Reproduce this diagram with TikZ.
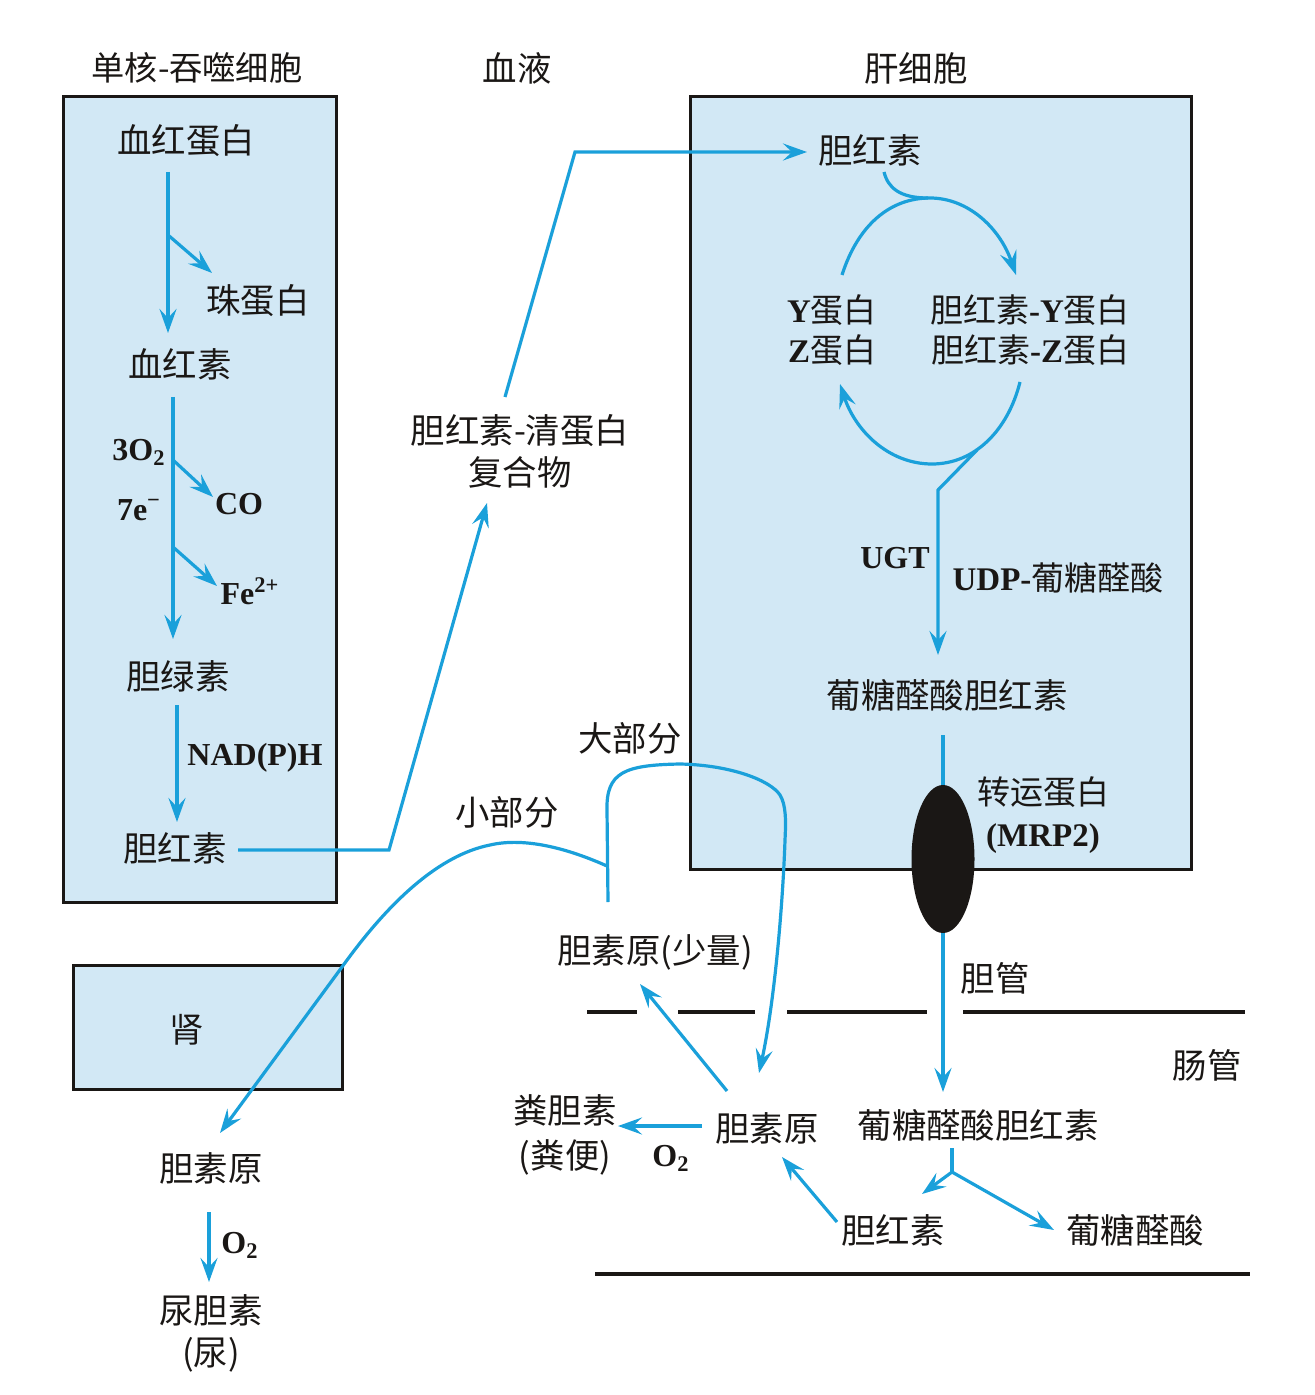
\documentclass[tikz,border=0pt]{standalone}
\usepackage{fontspec}
\setmainfont{Liberation Serif}
\newfontfamily\cjk{Noto Sans CJK SC}
\newcommand\zh[1]{{\cjk\mdseries #1}}
\usetikzlibrary{arrows.meta,shapes.geometric,calc}
\definecolor{flow}{HTML}{1AA0DA}
\definecolor{cellfill}{HTML}{D2E8F5}
\definecolor{ink}{HTML}{1A1715}
\begin{document}
\begin{tikzpicture}[x=0.5pt,y=-0.5pt,
  zhtxt/.style={font=\fontsize{17.2}{21}\selectfont\cjk, text=ink, align=center, inner sep=0pt},
  latn/.style={font=\fontsize{16}{20}\selectfont\bfseries, text=ink, align=center, inner sep=0pt},
  cellbox/.style={draw=ink, line width=1.5pt, fill=cellfill},
  flowline/.style={draw=flow, line width=1.6pt},
  arr/.style={flowline, -{Stealth[length=12pt,width=8.5pt,inset=4.5pt]}},
  gutline/.style={draw=ink, line width=2pt}]
\useasboundingbox (0,0) rectangle (1314,1395);

% compartments
\draw[cellbox] (63,97) rectangle (336,902);
\draw[cellbox] (690,97) rectangle (1191,869);
\draw[cellbox] (73,965) rectangle (342,1089);

% titles
\node[zhtxt, font=\fontsize{16.6}{21}\selectfont\cjk] (tmono) at (197,68) {单核-吞噬细胞};
\node[zhtxt] (tblood) at (517,68) {血液};
\node[zhtxt] (tliver) at (916,68) {肝细胞};

% macrophage
\node[zhtxt] (hb) at (186,141) {血红蛋白};
\node[zhtxt] (glob) at (258,301) {珠蛋白};
\node[zhtxt] (heme) at (180,364) {血红素};
\node[latn] (o2a) at (139,452) {3O\textsubscript{2}};
\node[latn] (e7) at (139,510) {7e\textsuperscript{\char"2212}};
\node[latn] (co) at (239,504) {CO};
\node[latn] (fe) at (250,591) {Fe\textsuperscript{2+}};
\node[zhtxt] (bv) at (178,676) {胆绿素};
\node[latn] (nad) at (255,758) {NAD(P)H};
\node[zhtxt] (br1) at (175,848) {胆红素};

% blood
\node[zhtxt] (alb) at (520,451) {胆红素-清蛋白\\复合物};

% liver
\node[zhtxt] (br2) at (870,150) {胆红素};
\node[latn, font=\fontsize{16.5}{20}\selectfont\bfseries] (yz) at (832,330) {Y\zh{蛋白}\\Z\zh{蛋白}};
\node[latn, font=\fontsize{16.5}{20}\selectfont\bfseries] (byz) at (1030,330) {\zh{胆红素}-Y\zh{蛋白}\\\zh{胆红素}-Z\zh{蛋白}};
\node[latn] (ugt) at (895,558) {UGT};
\node[latn, font=\fontsize{16.5}{20}\selectfont\bfseries] (udp) at (1058,578) {UDP-\zh{葡糖醛酸}};
\node[zhtxt] (gbr) at (947,695) {葡糖醛酸胆红素};
\node[latn, font=\fontsize{16.5}{21}\selectfont\bfseries] (mrpl) at (1043,815) {\zh{转运蛋白}\\(MRP2)};

% bile duct / gut
\node[zhtxt] (bd) at (995,978) {胆管};
\node[zhtxt] (gut) at (1207,1065) {肠管};
\node[zhtxt] (gbr2) at (978,1125) {葡糖醛酸胆红素};
\node[zhtxt] (br3) at (893,1230) {胆红素};
\node[zhtxt] (gluc) at (1135,1230) {葡糖醛酸};
\node[zhtxt] (ubg) at (767,1128) {胆素原};
\node[zhtxt, font=\fontsize{17.2}{22.5}\selectfont\cjk] (sterc) at (565,1135) {粪胆素\\(粪便)};
\node[latn] (o2b) at (671,1158) {O\textsubscript{2}};
\node[zhtxt] (ubgs) at (655,952) {胆素原(少量)};
\node[zhtxt] (most) at (630,738) {大部分};
\node[zhtxt] (few) at (507,812) {小部分};

% kidney
\node[zhtxt] (kid) at (187,1030) {肾};
\node[zhtxt] (ubgk) at (211,1168) {胆素原};
\node[latn] (o2c) at (240,1245) {O\textsubscript{2}};
\node[zhtxt] (urob) at (211,1333) {尿胆素\\(尿)};

% gut walls
\draw[gutline] (587,1012) -- (637,1012);
\draw[gutline] (678,1012) -- (755,1012);
\draw[gutline] (787,1012) -- (927,1012);
\draw[gutline] (963,1012) -- (1245,1012);
\draw[gutline] (595,1274) -- (1250,1274);

% macrophage connectors
\draw[arr] ($(hb)+(-18,31)$) -- ($(heme)+(-12,-31)$);
\draw[arr] ($(hb)+(-18,94)$) -- ($(glob)+(-46,-28)$);
\draw[arr] ($(heme)+(-7,33)$) -- ($(bv)+(-5,-37)$);
\draw[arr] ($(heme)+(-7,96)$) -- ($(co)+(-26,-7)$);
\draw[arr] ($(heme)+(-7,183)$) -- ($(fe)+(-33,-5)$);
\draw[arr] ($(bv)+(-1,29)$) -- ($(br1)+(2,-26)$);

% blood transport
\draw[arr] ($(br1)+(63,2)$) -- (389,850) -- ($(alb)+(-33,52)$);
\draw[arr] ($(alb)+(-15,-54)$) -- (575,152) -- ($(br2)+(-63,2)$);

% ligandin cycle
\draw[flowline] ($(br2)+(14,22)$) .. controls (888,188) and (900,198) .. (928,198);
\draw[arr] ($(yz)+(10,-55)$) .. controls (858,225) and (890,198) .. (930,198)
  .. controls (968,198) and (1000,228) .. ($(byz)+(-14,-55)$);
\draw[arr] ($(byz)+(-10,52)$) .. controls (1008,430) and (975,464) .. (932,464)
  .. controls (888,464) and (855,430) .. ($(yz)+(8,54)$);
\draw[arr] ($(gbr)+(30,-245)$) -- (938,490) -- ($(gbr)+(-9,-40)$);

% transporter
\node[ellipse, fill=ink, inner sep=0pt, minimum width=31.5pt, minimum height=74pt] (mrp) at (943,859) {};
\draw[flowline] ($(gbr)+(-4,40)$) -- (mrp.north);
\draw[arr] (mrp.south) -- ($(gbr2)+(-35,-33)$);

% gut reactions
\draw[flowline] ($(gbr2)+(-26,23)$) -- (952,1172);
\draw[arr] (952,1172) -- ($(br3)+(29,-36)$);
\draw[arr] (952,1172) -- ($(gluc)+(-81,0)$);
\draw[arr] ($(br3)+(-56,-8)$) -- ($(ubg)+(15,29)$);
\draw[arr] ($(ubg)+(-65,-2)$) -- ($(sterc)+(53,-9)$);
\draw[arr] ($(ubg)+(-40,-37)$) -- ($(ubgs)+(-15,32)$);

% enterohepatic circulation
\draw[arr] ($(ubgs)+(-47,-50)$) -- (607,810) .. controls (606,772) and (625,765) .. (680,764)
  .. controls (730,765) and (770,780) .. (780,795)
  .. controls (786,805) and (786,820) .. (785,840)
  .. controls (783,900) and (775,1000) .. ($(ubg)+(-8,-55)$);
\draw[arr] ($(ubgs)+(-48,-86)$) .. controls (560,845) and (520,838) .. (490,845)
  .. controls (440,855) and (390,900) .. (342,967) -- ($(ubgk)+(9,-35)$);

% kidney
\draw[arr] ($(ubgk)+(-2,44)$) -- ($(urob)+(-2,-51)$);
\end{tikzpicture}
\end{document}
